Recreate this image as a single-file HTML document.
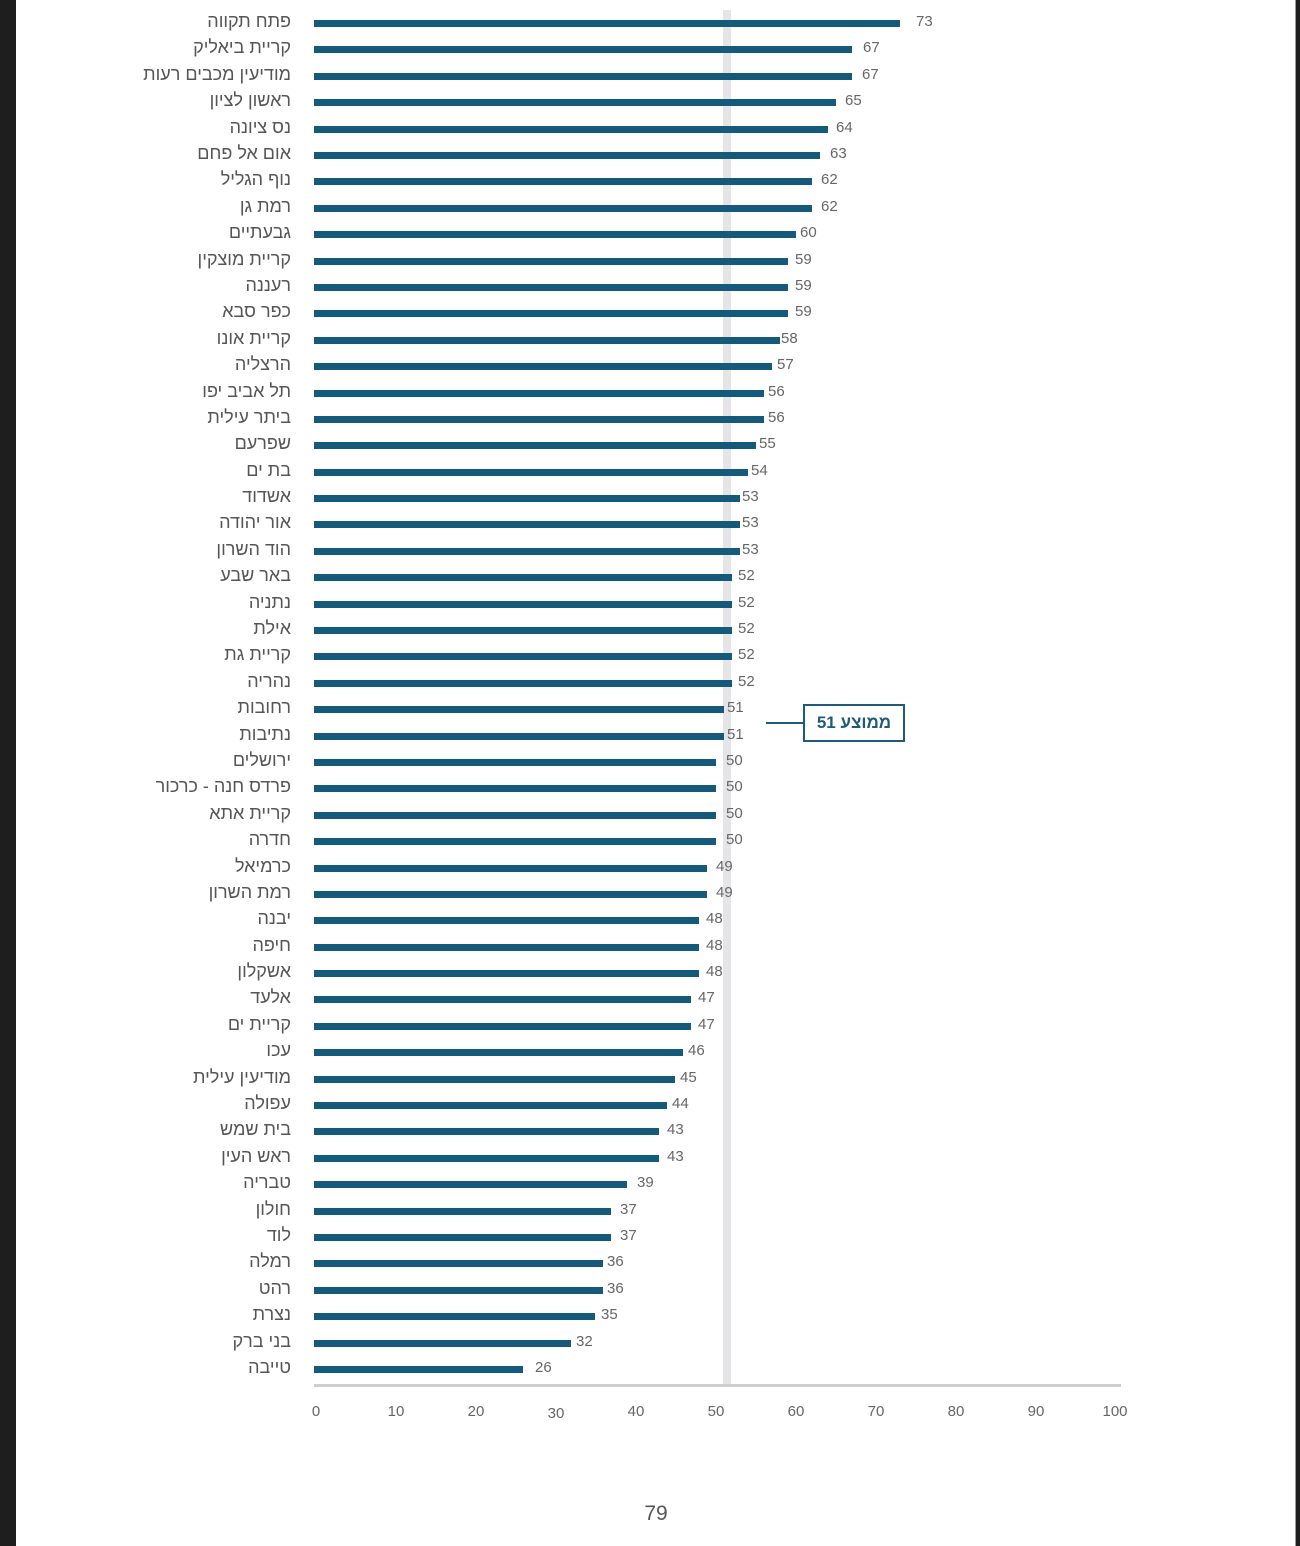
<!DOCTYPE html>
<html lang="he">
<head>
<meta charset="utf-8">
<style>
html,body{margin:0;padding:0;}
body{width:1300px;height:1546px;position:relative;background:#fff;overflow:hidden;font-family:"Liberation Sans","DejaVu Sans",sans-serif;}
.bl{position:absolute;top:0;left:0;width:16px;height:1546px;background:#1e1e1e;}
.br{position:absolute;top:0;left:1295px;width:5px;height:1546px;background:#1e1e1e;border-left:1px solid #9a9a9a;}
.band{position:absolute;left:723px;top:10px;width:8px;height:1375px;background:#e5e5e7;}
.axis{position:absolute;left:314px;top:1384px;width:807px;height:3px;background:#cfcfcf;}
.r{position:absolute;left:0;width:1300px;height:7px;}
.r i{position:absolute;left:314px;top:0;height:7px;background:#165a7b;}
.r span{position:absolute;right:1009px;top:-8px;font-size:18px;line-height:18px;white-space:nowrap;direction:rtl;color:#555;}
.r b{position:absolute;top:-6px;font-weight:normal;font-size:15px;line-height:16px;color:#666;}
.t{position:absolute;top:1404px;font-size:15px;line-height:16px;color:#666;width:40px;margin-left:-20px;text-align:center;}
.box{position:absolute;left:803px;top:704px;width:98px;height:34px;border:2px solid #1f5a7a;box-sizing:content-box;color:#1f5a7a;font-weight:bold;font-size:17px;line-height:34px;text-align:center;direction:rtl;}
.cl{position:absolute;left:766px;top:722px;width:37px;height:2px;background:#1f5a7a;}
.pg{position:absolute;left:626px;top:1502px;width:60px;text-align:center;font-size:21px;line-height:24px;color:#555;}
</style>
</head>
<body>
<div class="bl"></div>
<div class="br"></div>
<div class="band"></div>
<div class="axis"></div>

<div class="r" style="top:20px"><i style="width:586px"></i><span>פתח תקווה</span><b style="left:916px">73</b></div>
<div class="r" style="top:46px"><i style="width:538px"></i><span>קריית ביאליק</span><b style="left:863px">67</b></div>
<div class="r" style="top:73px"><i style="width:538px"></i><span>מודיעין מכבים רעות</span><b style="left:862px">67</b></div>
<div class="r" style="top:99px"><i style="width:522px"></i><span>ראשון לציון</span><b style="left:845px">65</b></div>
<div class="r" style="top:126px"><i style="width:514px"></i><span>נס ציונה</span><b style="left:836px">64</b></div>
<div class="r" style="top:152px"><i style="width:506px"></i><span>אום אל פחם</span><b style="left:830px">63</b></div>
<div class="r" style="top:178px"><i style="width:498px"></i><span>נוף הגליל</span><b style="left:821px">62</b></div>
<div class="r" style="top:205px"><i style="width:498px"></i><span>רמת גן</span><b style="left:821px">62</b></div>
<div class="r" style="top:231px"><i style="width:482px"></i><span>גבעתיים</span><b style="left:800px">60</b></div>
<div class="r" style="top:258px"><i style="width:474px"></i><span>קריית מוצקין</span><b style="left:795px">59</b></div>
<div class="r" style="top:284px"><i style="width:474px"></i><span>רעננה</span><b style="left:795px">59</b></div>
<div class="r" style="top:310px"><i style="width:474px"></i><span>כפר סבא</span><b style="left:795px">59</b></div>
<div class="r" style="top:337px"><i style="width:466px"></i><span>קריית אונו</span><b style="left:781px">58</b></div>
<div class="r" style="top:363px"><i style="width:458px"></i><span>הרצליה</span><b style="left:777px">57</b></div>
<div class="r" style="top:390px"><i style="width:450px"></i><span>תל אביב יפו</span><b style="left:768px">56</b></div>
<div class="r" style="top:416px"><i style="width:450px"></i><span>ביתר עילית</span><b style="left:768px">56</b></div>
<div class="r" style="top:442px"><i style="width:442px"></i><span>שפרעם</span><b style="left:759px">55</b></div>
<div class="r" style="top:469px"><i style="width:434px"></i><span>בת ים</span><b style="left:751px">54</b></div>
<div class="r" style="top:495px"><i style="width:426px"></i><span>אשדוד</span><b style="left:742px">53</b></div>
<div class="r" style="top:521px"><i style="width:426px"></i><span>אור יהודה</span><b style="left:742px">53</b></div>
<div class="r" style="top:548px"><i style="width:426px"></i><span>הוד השרון</span><b style="left:742px">53</b></div>
<div class="r" style="top:574px"><i style="width:418px"></i><span>באר שבע</span><b style="left:738px">52</b></div>
<div class="r" style="top:601px"><i style="width:418px"></i><span>נתניה</span><b style="left:738px">52</b></div>
<div class="r" style="top:627px"><i style="width:418px"></i><span>אילת</span><b style="left:738px">52</b></div>
<div class="r" style="top:653px"><i style="width:418px"></i><span>קריית גת</span><b style="left:738px">52</b></div>
<div class="r" style="top:680px"><i style="width:418px"></i><span>נהריה</span><b style="left:738px">52</b></div>
<div class="r" style="top:706px"><i style="width:410px"></i><span>רחובות</span><b style="left:727px">51</b></div>
<div class="r" style="top:733px"><i style="width:410px"></i><span>נתיבות</span><b style="left:727px">51</b></div>
<div class="r" style="top:759px"><i style="width:402px"></i><span>ירושלים</span><b style="left:726px">50</b></div>
<div class="r" style="top:785px"><i style="width:402px"></i><span>פרדס חנה - כרכור</span><b style="left:726px">50</b></div>
<div class="r" style="top:812px"><i style="width:402px"></i><span>קריית אתא</span><b style="left:726px">50</b></div>
<div class="r" style="top:838px"><i style="width:402px"></i><span>חדרה</span><b style="left:726px">50</b></div>
<div class="r" style="top:865px"><i style="width:393px"></i><span>כרמיאל</span><b style="left:716px">49</b></div>
<div class="r" style="top:891px"><i style="width:393px"></i><span>רמת השרון</span><b style="left:716px">49</b></div>
<div class="r" style="top:917px"><i style="width:385px"></i><span>יבנה</span><b style="left:706px">48</b></div>
<div class="r" style="top:944px"><i style="width:385px"></i><span>חיפה</span><b style="left:706px">48</b></div>
<div class="r" style="top:970px"><i style="width:385px"></i><span>אשקלון</span><b style="left:706px">48</b></div>
<div class="r" style="top:996px"><i style="width:377px"></i><span>אלעד</span><b style="left:698px">47</b></div>
<div class="r" style="top:1023px"><i style="width:377px"></i><span>קריית ים</span><b style="left:698px">47</b></div>
<div class="r" style="top:1049px"><i style="width:369px"></i><span>עכו</span><b style="left:688px">46</b></div>
<div class="r" style="top:1076px"><i style="width:361px"></i><span>מודיעין עילית</span><b style="left:680px">45</b></div>
<div class="r" style="top:1102px"><i style="width:353px"></i><span>עפולה</span><b style="left:672px">44</b></div>
<div class="r" style="top:1128px"><i style="width:345px"></i><span>בית שמש</span><b style="left:667px">43</b></div>
<div class="r" style="top:1155px"><i style="width:345px"></i><span>ראש העין</span><b style="left:667px">43</b></div>
<div class="r" style="top:1181px"><i style="width:313px"></i><span>טבריה</span><b style="left:637px">39</b></div>
<div class="r" style="top:1208px"><i style="width:297px"></i><span>חולון</span><b style="left:620px">37</b></div>
<div class="r" style="top:1234px"><i style="width:297px"></i><span>לוד</span><b style="left:620px">37</b></div>
<div class="r" style="top:1260px"><i style="width:289px"></i><span>רמלה</span><b style="left:607px">36</b></div>
<div class="r" style="top:1287px"><i style="width:289px"></i><span>רהט</span><b style="left:607px">36</b></div>
<div class="r" style="top:1313px"><i style="width:281px"></i><span>נצרת</span><b style="left:601px">35</b></div>
<div class="r" style="top:1340px"><i style="width:257px"></i><span>בני ברק</span><b style="left:576px">32</b></div>
<div class="r" style="top:1366px"><i style="width:209px"></i><span>טייבה</span><b style="left:535px">26</b></div>

<div class="cl"></div>
<div class="box">ממוצע 51</div>

<div class="t" style="left:316px">0</div>
<div class="t" style="left:396px">10</div>
<div class="t" style="left:476px">20</div>
<div class="t" style="left:556px;top:1406px">30</div>
<div class="t" style="left:636px">40</div>
<div class="t" style="left:716px">50</div>
<div class="t" style="left:796px">60</div>
<div class="t" style="left:876px">70</div>
<div class="t" style="left:956px">80</div>
<div class="t" style="left:1036px">90</div>
<div class="t" style="left:1115px">100</div>

<div class="pg">79</div>
</body>
</html>
